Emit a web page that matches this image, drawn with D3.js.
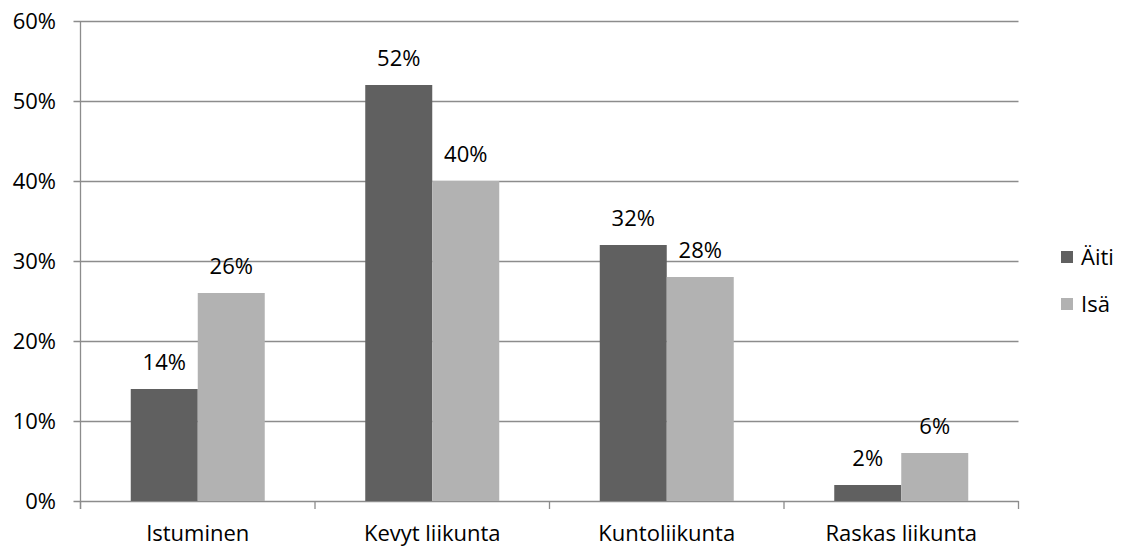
<!DOCTYPE html>
<html>
<head>
<meta charset="utf-8">
<script src="https://cdn.jsdelivr.net/npm/d3@7"></script>
<style>
  body { margin: 0; background: #fff; }
  svg { display: block; font-family: "Open Sans", "Noto Sans", sans-serif; }
</style>
</head>
<body>
<svg id="chart" width="1121" height="549"></svg>
<script>
// Liikuntatottumukset: äidit ja isät (%)
const categories = ["Istuminen", "Kevyt liikunta", "Kuntoliikunta", "Raskas liikunta"];
const seriesNames = ["Äiti", "Isä"];
const aitiValues = [14, 52, 32, 2];
const isaValues = [26, 40, 28, 6];
const yTicks = [0, 10, 20, 30, 40, 50, 60];
const colors = ["#606060", "#b2b2b2"];

const svg = d3.select("#chart");
const plotLeft = 80.5, plotRight = 1018.5, plotTop = 21, plotBottom = 501;
const fontSize = 22;

const x = d3.scaleBand().domain(categories).range([plotLeft, plotRight]).paddingInner(0).paddingOuter(0);
const xs = d3.scaleBand().domain(seriesNames).range([0, x.bandwidth()]).paddingInner(0).paddingOuter(0.75);
const y = d3.scaleLinear().domain([0, 60]).range([plotBottom, plotTop]);

const grid = "#8c8c8c";

// Vaakasuorat apuviivat ja y-akselin merkit
svg.append("g").selectAll("line").data(yTicks).join("line")
  .attr("x1", plotLeft - 7).attr("x2", plotRight)
  .attr("y1", d => Math.round(y(d)) + 0.5).attr("y2", d => Math.round(y(d)) + 0.5)
  .attr("stroke", grid).attr("stroke-width", 1.3);

svg.append("g").selectAll("text").data(yTicks).join("text")
  .attr("x", 56).attr("y", d => y(d)).attr("dy", "0.35em")
  .attr("text-anchor", "end").attr("font-size", fontSize).attr("fill", "#000")
  .text(d => d + "%");

// Pylväät
const groups = svg.append("g").selectAll("g").data(categories).join("g")
  .attr("transform", d => `translate(${x(d)},0)`);

groups.selectAll("rect").data((d, i) => [
  { s: "Äiti", v: aitiValues[i], c: 0 },
  { s: "Isä", v: isaValues[i], c: 1 }
]).join("rect")
  .attr("x", d => xs(d.s)).attr("width", xs.bandwidth())
  .attr("y", d => y(d.v)).attr("height", d => y(0) - y(d.v))
  .attr("fill", d => colors[d.c]);

// Arvotunnisteet
groups.selectAll("text").data((d, i) => [
  { s: "Äiti", v: aitiValues[i] },
  { s: "Isä", v: isaValues[i] }
]).join("text")
  .attr("x", d => xs(d.s) + xs.bandwidth() / 2)
  .attr("y", d => y(d.v) - 19)
  .attr("text-anchor", "middle").attr("font-size", fontSize).attr("fill", "#000")
  .text(d => d.v + "%");

// X-akseli
svg.append("line").attr("x1", plotLeft).attr("x2", plotLeft)
  .attr("y1", plotTop).attr("y2", plotBottom + 8).attr("stroke", grid).attr("stroke-width", 1.3);

const xTickPos = categories.map(c => x(c)).concat([plotRight]);
svg.append("g").selectAll("line").data(xTickPos).join("line")
  .attr("x1", d => d).attr("x2", d => d)
  .attr("y1", plotBottom).attr("y2", plotBottom + 8)
  .attr("stroke", grid).attr("stroke-width", 1.3);

svg.append("g").selectAll("text").data(categories).join("text")
  .attr("x", d => x(d) + x.bandwidth() / 2).attr("y", 541)
  .attr("text-anchor", "middle").attr("font-size", fontSize).attr("fill", "#000")
  .text(d => d);

// Selite
const legend = svg.append("g").selectAll("g").data(seriesNames).join("g")
  .attr("transform", (d, i) => `translate(1061,${251 + i * 47})`);
legend.append("rect").attr("width", 12).attr("height", 12).attr("fill", (d, i) => colors[i]);
legend.append("text").attr("x", 20).attr("y", 6).attr("dy", "0.35em")
  .attr("font-size", fontSize).attr("fill", "#000").text(d => d);
</script>
</body>
</html>
